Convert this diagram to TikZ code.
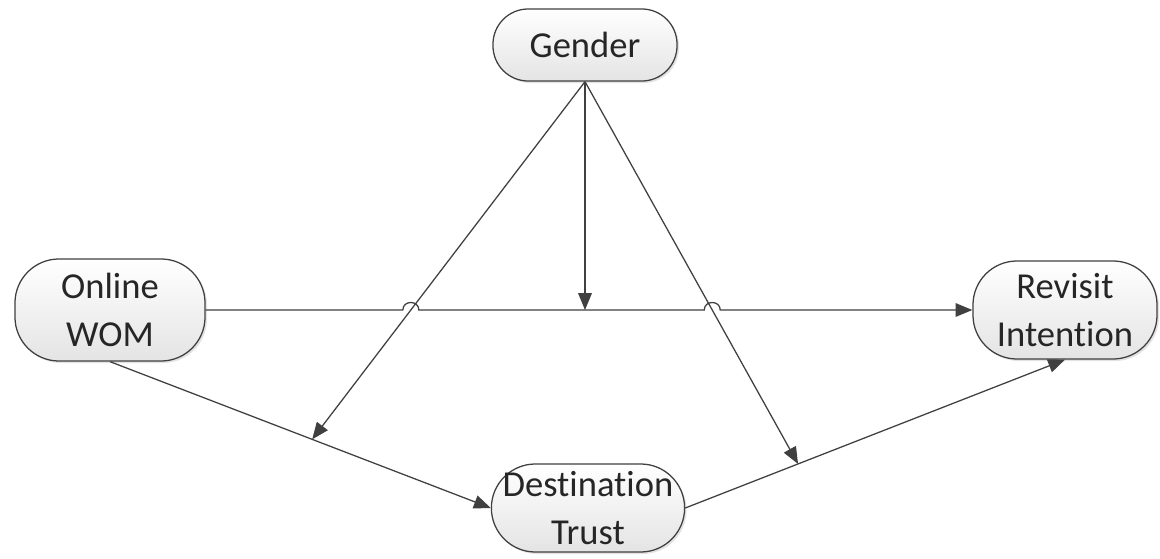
\documentclass[tikz,border=0pt]{standalone}
\usepackage{fontspec}
\setmainfont{Carlito}[Ligatures=CommonOff]
\usetikzlibrary{arrows.meta,calc,intersections,shadows}
\definecolor{Edge}{HTML}{404040}
\definecolor{Ink}{HTML}{262626}
\definecolor{Shade}{HTML}{E4E4E4}
\definecolor{Shadow}{HTML}{C8C8C8}

\begin{document}
\begin{tikzpicture}[x=0.025cm,y=-0.025cm,every node/.style={text=Ink},factor/.style={rounded corners=1.1cm,draw=Edge,line width=0.9pt,top color=white,bottom color=Shade,drop shadow={shadow xshift=0.05cm,shadow yshift=-0.05cm,fill=Shadow,opacity=0.5},align=center,inner sep=0pt,font=\fontsize{26}{34}\selectfont},link/.style={-{Triangle[length=0.42cm,width=0.34cm]},line width=0.9pt,draw=Edge}]
\useasboundingbox[fill=white] (0,0) rectangle (1160,559);
\node[factor,rounded corners=0.88cm,minimum width=4.6cm,minimum height=1.8cm] (gender) at (585,45) {Gender};
\node[factor,minimum width=4.75cm,minimum height=2.55cm] (wom) at (110,310) {Online\\WOM};
\node[factor,minimum width=4.6cm,minimum height=2.45cm] (revisit) at (1065,310) {Revisit\\Intention};
\node[factor,minimum width=4.83cm,minimum height=2.2cm] (trust) at (588,508) {Destination\\Trust};
\coordinate (onTrust) at ($(wom.south)!0.531!(trust.west)$);
\coordinate (onRevisit) at ($(trust.east)!0.297!(revisit.south)$);
\coordinate (onMain) at ($(wom.east)!(gender.south)!(revisit.west)$);
\draw[link] (wom.south) -- (trust.west);
\draw[link] (trust.east) -- (revisit.south);
\draw[link,name path=toTrust] (gender.south) -- (onTrust);
\draw[link,name path=toRevisit] (gender.south) -- (onRevisit);
\draw[link] (gender.south) -- (onMain);
% hops where the moderator lines cross the main path
\path[name path=main] (wom.east) -- (revisit.west);
\path[name intersections={of=main and toTrust,by=hopL}];
\path[name intersections={of=main and toRevisit,by=hopR}];
\draw[link] (wom.east) -- ($(hopL)+(-8,0)$) .. controls ($(hopL)+(-8,-10)$) and ($(hopL)+(8,-10)$) .. ($(hopL)+(8,0)$) -- ($(hopR)+(-8,0)$) .. controls ($(hopR)+(-8,-10)$) and ($(hopR)+(8,-10)$) .. ($(hopR)+(8,0)$) -- (revisit.west);
\end{tikzpicture}
\end{document}
